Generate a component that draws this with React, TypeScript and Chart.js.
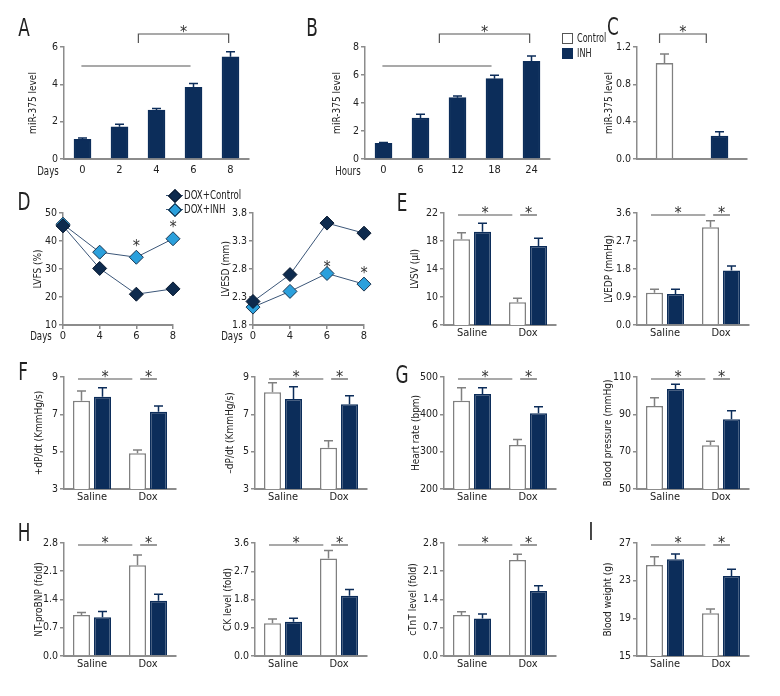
import React, { useEffect, useRef } from 'react';
import { Chart, registerables } from 'chart.js';
Chart.register(...registerables);

const FONT = "'Liberation Sans Narrow', 'Arial Narrow', 'DejaVu Sans Condensed', sans-serif";
const NAVY = '#0c2d5a';
const GRAY = '#808080';
const AXIS = '#8c8c8c';
const TEXT = '#222222';
const LIGHT = '#2ba0dc';
const DARK = '#0e2b4e';
const LINE = '#3b5678';

// ---------- data ----------
const daysA = ['0', '2', '4', '6', '8'];
const mirA = [1.05, 1.73, 2.62, 3.84, 5.48];
const mirAErr = [0.07, 0.13, 0.09, 0.21, 0.27];

const hoursB = ['0', '6', '12', '18', '24'];
const mirB = [1.12, 2.93, 4.38, 5.74, 6.98];
const mirBErr = [0.05, 0.26, 0.12, 0.24, 0.38];

const groupsC = ['Control', 'INH'];
const mirC = [1.025, 0.246];
const mirCErr = [0.1, 0.045];

const daysD = ['0', '4', '6', '8'];
const lvfsControl = [45.4, 30.2, 21, 22.9];
const lvfsInh = [46, 36, 34.2, 40.8];
const lvesdControl = [2.22, 2.7, 3.62, 3.44];
const lvesdInh = [2.12, 2.4, 2.72, 2.53];

const groups = ['Saline', 'Dox'];
const lvsvControl = [18.24, 9.24];
const lvsvControlErr = [0.95, 0.57];
const lvsvInh = [19.33, 17.29];
const lvsvInhErr = [1.2, 1.1];
const lvedpControl = [1.04, 3.14];
const lvedpControlErr = [0.11, 0.21];
const lvedpInh = [1.0, 1.75];
const lvedpInhErr = [0.15, 0.15];

const pdpControl = [7.73, 4.91];
const pdpControlErr = [0.52, 0.18];
const pdpInh = [7.94, 7.14];
const pdpInhErr = [0.49, 0.31];
const ndpControl = [8.18, 5.21];
const ndpControlErr = [0.51, 0.38];
const ndpInh = [7.82, 7.54];
const ndpInhErr = [0.66, 0.46];

const hrControl = [436.5, 317.9];
const hrControlErr = [34.5, 15];
const hrInh = [454.5, 402.8];
const hrInhErr = [16.5, 17.7];
const bpControl = [94.5, 73.4];
const bpControlErr = [4.4, 2.2];
const bpInh = [103.6, 87.3];
const bpInhErr = [2.5, 4.6];

const bnpControl = [1.016, 2.25];
const bnpControlErr = [0.06, 0.25];
const bnpInh = [0.96, 1.37];
const bnpInhErr = [0.14, 0.16];
const ckControl = [1.04, 3.11];
const ckControlErr = [0.14, 0.25];
const ckInh = [1.09, 1.92];
const ckInhErr = [0.11, 0.2];
const ctntControl = [1.016, 2.38];
const ctntControlErr = [0.08, 0.14];
const ctntInh = [0.93, 1.61];
const ctntInhErr = [0.11, 0.13];
const bwControl = [24.66, 19.53];
const bwControlErr = [0.88, 0.46];
const bwInh = [25.27, 23.5];
const bwInhErr = [0.56, 0.7];

// ---------- plugins ----------
const errPlugin = {
  id: 'errbars',
  afterDatasetsDraw(chart: any) {
    const ctx = chart.ctx;
    const ys = chart.scales.y;
    chart.data.datasets.forEach((ds: any, i: number) => {
      if (!ds.errors) return;
      const meta = chart.getDatasetMeta(i);
      meta.data.forEach((el: any, j: number) => {
        const yTop = ys.getPixelForValue(ds.data[j] + ds.errors[j]);
        const col = Array.isArray(ds.borderColor) ? ds.borderColor[j] : ds.borderColor;
        ctx.save();
        ctx.strokeStyle = col;
        ctx.lineWidth = 1.5;
        ctx.beginPath();
        ctx.moveTo(el.x, el.y);
        ctx.lineTo(el.x, yTop);
        ctx.moveTo(el.x - 4.5, yTop);
        ctx.lineTo(el.x + 4.5, yTop);
        ctx.stroke();
        ctx.restore();
      });
    });
  },
};

function drawStar(ctx: any, x: number, y: number) {
  ctx.save();
  ctx.fillStyle = '#333';
  ctx.font = `16px ${FONT}`;
  ctx.textAlign = 'center';
  ctx.textBaseline = 'alphabetic';
  ctx.fillText('*', x, y + 9);
  ctx.restore();
}

const sigPlugin = {
  id: 'sig',
  afterDraw(chart: any, _args: any, opts: any) {
    const items = (opts && opts.items) || [];
    const ctx = chart.ctx;
    const xs = chart.scales.x;
    const top = chart.chartArea.top;
    items.forEach((it: any) => {
      if (it.kind === 'line' || it.kind === 'bracket') {
        const x1 = xs.getPixelForValue(it.x1);
        const x2 = xs.getPixelForValue(it.x2);
        const y = top + it.dy;
        ctx.save();
        ctx.strokeStyle = '#555';
        ctx.lineWidth = 1.2;
        ctx.beginPath();
        if (it.kind === 'bracket') {
          ctx.moveTo(x1, y + it.tick);
          ctx.lineTo(x1, y);
          ctx.lineTo(x2, y);
          ctx.lineTo(x2, y + it.tick);
        } else {
          ctx.moveTo(x1, y);
          ctx.lineTo(x2, y);
        }
        ctx.stroke();
        ctx.restore();
        if (it.star) drawStar(ctx, (x1 + x2) / 2, y - 6);
      } else if (it.kind === 'pstar') {
        const el = chart.getDatasetMeta(it.ds).data[it.i];
        drawStar(ctx, el.x, el.y + it.dy);
      }
    });
  },
};

// ---------- panel component ----------
const PAD_T = 30;
const PAD_R = 14;
const X_H = 26;
const TICK_SIZE = 10.5;
const TITLE_SIZE = 10;

type Spec = {
  area: [number, number, number, number];
  yW: number;
  type: 'bar' | 'line';
  labels: string[];
  datasets: any[];
  yMin: number;
  yMax: number;
  yStep: number;
  dec: number;
  yTitle: string;
  xTicks: boolean;
  xPad: number;
  xMarks: boolean;
  annot: any[];
};

function Panel({ spec }: { spec: Spec }) {
  const ref = useRef<HTMLCanvasElement>(null);
  const [l, t, w, h] = spec.area;
  const cw = spec.yW + w + PAD_R;
  const ch = PAD_T + h + X_H;
  useEffect(() => {
    if (!ref.current) return;
    const chart = new Chart(ref.current, {
      type: spec.type as any,
      data: { labels: spec.labels, datasets: spec.datasets },
      plugins: [errPlugin, sigPlugin],
      options: {
        responsive: false,
        animation: false,
        devicePixelRatio: 1,
        layout: { padding: { top: PAD_T, right: PAD_R, left: 0, bottom: 0 } },
        plugins: {
          legend: { display: false },
          tooltip: { enabled: false },
          sig: { items: spec.annot },
        } as any,
        scales: {
          x: {
            type: 'category',
            offset: spec.type === 'bar',
            grid: {
              display: spec.xMarks,
              drawOnChartArea: false,
              drawTicks: spec.xMarks,
              tickLength: 4,
              color: AXIS,
              lineWidth: 1.5,
            },
            border: { display: true, color: AXIS, width: 2 },
            ticks: {
              display: spec.xTicks,
              padding: spec.xPad,
              font: { family: FONT, size: 11 },
              color: TEXT,
              maxRotation: 0,
              autoSkip: false,
            },
            afterFit: (s: any) => {
              s.height = X_H;
            },
          },
          y: {
            min: spec.yMin,
            max: spec.yMax,
            ticks: {
              stepSize: spec.yStep,
              callback: (v: any) => Number(v).toFixed(spec.dec),
              font: { family: FONT, size: TICK_SIZE },
              color: TEXT,
              padding: 2,
            },
            grid: {
              drawOnChartArea: false,
              drawTicks: true,
              tickLength: 4,
              color: AXIS,
              lineWidth: 1.5,
            },
            border: { display: true, color: AXIS, width: 1.5 },
            title: {
              display: true,
              text: spec.yTitle,
              font: { family: FONT, size: TITLE_SIZE },
              color: TEXT,
              padding: { top: 0, bottom: 0 },
            },
            afterFit: (s: any) => {
              s.width = spec.yW;
            },
          },
        },
      } as any,
    });
    return () => chart.destroy();
  }, []);
  return (
    <canvas
      ref={ref}
      width={cw}
      height={ch}
      style={{ position: 'absolute', left: l - spec.yW, top: t - PAD_T, width: cw, height: ch }}
    />
  );
}

// ---------- dataset builders ----------
function singleBars(data: number[], errors: number[]) {
  return [
    {
      data,
      errors,
      backgroundColor: NAVY,
      borderColor: NAVY,
      borderWidth: 1.5,
      barThickness: 17,
    },
  ];
}
function pairBars(ctrl: number[], ctrlErr: number[], inh: number[], inhErr: number[]) {
  return [
    {
      label: 'Control',
      data: ctrl,
      errors: ctrlErr,
      backgroundColor: '#ffffff',
      borderColor: GRAY,
      borderWidth: 1.5,
      categoryPercentage: 0.75,
      barPercentage: 0.81,
    },
    {
      label: 'INH',
      data: inh,
      errors: inhErr,
      backgroundColor: NAVY,
      borderColor: NAVY,
      borderWidth: 1.5,
      categoryPercentage: 0.75,
      barPercentage: 0.81,
    },
  ];
}
function lines(ctrl: number[], inh: number[]) {
  return [
    {
      label: 'DOX+Control',
      data: ctrl,
      borderColor: LINE,
      borderWidth: 1,
      pointStyle: 'rectRot',
      pointRadius: 7,
      pointBackgroundColor: DARK,
      pointBorderColor: '#0a1a30',
      pointBorderWidth: 1,
    },
    {
      label: 'DOX+INH',
      data: inh,
      borderColor: LINE,
      borderWidth: 1,
      pointStyle: 'rectRot',
      pointRadius: 7,
      pointBackgroundColor: LIGHT,
      pointBorderColor: '#1a3550',
      pointBorderWidth: 1,
    },
  ];
}

const groupAnnot = [
  { kind: 'line', x1: -0.25, x2: 0.72, dy: 2, star: true },
  { kind: 'line', x1: 0.86, x2: 1.16, dy: 2, star: true },
];
const trendAnnot = [
  { kind: 'line', x1: -0.03, x2: 2.92, dy: 19 },
  { kind: 'bracket', x1: 1.51, x2: 3.95, dy: -13, tick: 9, star: true },
];

const base = { xTicks: true, xPad: 2, xMarks: false, type: 'bar' as const };

const specs: Spec[] = [
  { ...base, area: [64, 47, 185, 112], yW: 37, labels: daysA, datasets: singleBars(mirA, mirAErr), yMin: 0, yMax: 6, yStep: 2, dec: 0, yTitle: 'miR-375 level', xPad: 5, annot: trendAnnot },
  { ...base, area: [365, 47, 185, 112], yW: 34, labels: hoursB, datasets: singleBars(mirB, mirBErr), yMin: 0, yMax: 8, yStep: 2, dec: 0, yTitle: 'miR-375 level', xPad: 5, annot: trendAnnot },
  {
    ...base, area: [637, 47, 110, 112], yW: 34, labels: groupsC, xTicks: false,
    datasets: [{ data: mirC, errors: mirCErr, backgroundColor: ['#ffffff', NAVY], borderColor: [GRAY, NAVY], borderWidth: 1.5, barThickness: 17 }],
    yMin: 0, yMax: 1.2, yStep: 0.4, dec: 1, yTitle: 'miR-375 level',
    annot: [{ kind: 'bracket', x1: -0.09, x2: 0.76, dy: -13, tick: 9, star: true }],
  },
  {
    ...base, type: 'line', xMarks: true, xPad: 1, area: [63, 213, 110, 112], yW: 31, labels: daysD, datasets: lines(lvfsControl, lvfsInh),
    yMin: 10, yMax: 50, yStep: 10, dec: 0, yTitle: 'LVFS (%)',
    annot: [{ kind: 'pstar', ds: 1, i: 2, dy: -15 }, { kind: 'pstar', ds: 1, i: 3, dy: -16 }],
  },
  {
    ...base, type: 'line', xMarks: true, xPad: 1, area: [253, 213, 111, 112], yW: 33, labels: daysD, datasets: lines(lvesdControl, lvesdInh),
    yMin: 1.8, yMax: 3.8, yStep: 0.5, dec: 1, yTitle: 'LVESD (mm)',
    annot: [{ kind: 'pstar', ds: 1, i: 2, dy: -10 }, { kind: 'pstar', ds: 1, i: 3, dy: -15 }],
  },
  { ...base, area: [444, 213, 112, 112], yW: 35, labels: groups, datasets: pairBars(lvsvControl, lvsvControlErr, lvsvInh, lvsvInhErr), yMin: 6, yMax: 22, yStep: 4, dec: 0, yTitle: 'LVSV (μl)', annot: groupAnnot },
  { ...base, area: [637, 213, 112, 112], yW: 34, labels: groups, datasets: pairBars(lvedpControl, lvedpControlErr, lvedpInh, lvedpInhErr), yMin: 0, yMax: 3.6, yStep: 0.9, dec: 1, yTitle: 'LVEDP (mmHg)', annot: groupAnnot },
  { ...base, area: [64, 377, 112, 112], yW: 31, labels: groups, datasets: pairBars(pdpControl, pdpControlErr, pdpInh, pdpInhErr), yMin: 3, yMax: 9, yStep: 2, dec: 0, yTitle: '+dP/dt (KmmHg/s)', annot: groupAnnot },
  { ...base, area: [255, 377, 112, 112], yW: 31, labels: groups, datasets: pairBars(ndpControl, ndpControlErr, ndpInh, ndpInhErr), yMin: 3, yMax: 9, yStep: 2, dec: 0, yTitle: '–dP/dt (KmmHg/s)', annot: groupAnnot },
  { ...base, area: [444, 377, 112, 112], yW: 34, labels: groups, datasets: pairBars(hrControl, hrControlErr, hrInh, hrInhErr), yMin: 200, yMax: 500, yStep: 100, dec: 0, yTitle: 'Heart rate (bpm)', annot: groupAnnot },
  { ...base, area: [637, 377, 112, 112], yW: 35, labels: groups, datasets: pairBars(bpControl, bpControlErr, bpInh, bpInhErr), yMin: 50, yMax: 110, yStep: 20, dec: 0, yTitle: 'Blood pressure (mmHg)', annot: groupAnnot },
  { ...base, area: [64, 543, 112, 113], yW: 31, labels: groups, datasets: pairBars(bnpControl, bnpControlErr, bnpInh, bnpInhErr), yMin: 0, yMax: 2.8, yStep: 0.7, dec: 1, yTitle: 'NT-proBNP (fold)', annot: groupAnnot },
  { ...base, area: [255, 543, 112, 113], yW: 33, labels: groups, datasets: pairBars(ckControl, ckControlErr, ckInh, ckInhErr), yMin: 0, yMax: 3.6, yStep: 0.9, dec: 1, yTitle: 'CK level (fold)', annot: groupAnnot },
  { ...base, area: [444, 543, 112, 113], yW: 37, labels: groups, datasets: pairBars(ctntControl, ctntControlErr, ctntInh, ctntInhErr), yMin: 0, yMax: 2.8, yStep: 0.7, dec: 1, yTitle: 'cTnT level (fold)', annot: groupAnnot },
  { ...base, area: [637, 543, 112, 113], yW: 35, labels: groups, datasets: pairBars(bwControl, bwControlErr, bwInh, bwInhErr), yMin: 15, yMax: 27, yStep: 4, dec: 0, yTitle: 'Blood weight (g)', annot: groupAnnot },
];

const letters: [string, number, number][] = [
  ['A', 24, 28], ['B', 312, 28], ['C', 613, 27], ['D', 24, 202], ['E', 402, 203],
  ['F', 23, 372], ['G', 402, 375], ['H', 24, 533], ['I', 591, 532],
];

const axisWords: [string, number, number][] = [
  ['Days', 48, 171], ['Hours', 348, 171], ['Days', 41, 336], ['Days', 232, 336],
];

function Txt({ text, x, y, size, anchor = 'center', sx = 0.8 }: { text: string; x: number; y: number; size: number; anchor?: 'center' | 'left'; sx?: number }) {
  return (
    <div
      style={{
        position: 'absolute',
        left: x,
        top: y,
        transform: anchor === 'center' ? `translate(-50%, -50%) scaleX(${sx})` : `translate(0, -50%) scaleX(${sx})`,
        transformOrigin: anchor === 'center' ? '50% 50%' : '0 50%',
        fontFamily: FONT,
        fontSize: size,
        lineHeight: `${size}px`,
        color: TEXT,
        whiteSpace: 'nowrap',
      }}
    >
      {text}
    </div>
  );
}

function DiamondLegend({ y, color, label }: { y: number; color: string; label: string }) {
  return (
    <>
      <div style={{ position: 'absolute', left: 166, top: y, width: 17, height: 1, background: LINE }} />
      <div
        style={{
          position: 'absolute', left: 174.5 - 4.5, top: y - 4.5, width: 8, height: 8,
          background: color, border: '1px solid #0a1a30', transform: 'rotate(45deg)',
        }}
      />
      <Txt text={label} x={184} y={y} size={12} anchor="left" />
    </>
  );
}

export default function App() {
  return (
    <div style={{ position: 'absolute', left: 0, top: 0, width: 780, height: 696, background: '#fff', overflow: 'hidden' }}>
      {specs.map((s, i) => (
        <Panel key={i} spec={s} />
      ))}
      {letters.map(([t, x, y]) => (
        <Txt key={t} text={t} x={x} y={y} size={24} sx={0.78} />
      ))}
      {axisWords.map(([t, x, y], i) => (
        <Txt key={i} text={t} x={x} y={y} size={12} />
      ))}
      {/* top-right legend */}
      <div style={{ position: 'absolute', left: 562, top: 33, width: 9, height: 9, border: '1px solid #555', background: '#fff' }} />
      <Txt text="Control" x={577} y={38} size={12} anchor="left" sx={0.75} />
      <div style={{ position: 'absolute', left: 562, top: 48, width: 9, height: 9, border: `1px solid ${NAVY}`, background: NAVY }} />
      <Txt text="INH" x={577} y={53} size={12} anchor="left" sx={0.75} />
      {/* D legend */}
      <DiamondLegend y={195} color={DARK} label="DOX+Control" />
      <DiamondLegend y={209} color={LIGHT} label="DOX+INH" />
    </div>
  );
}
